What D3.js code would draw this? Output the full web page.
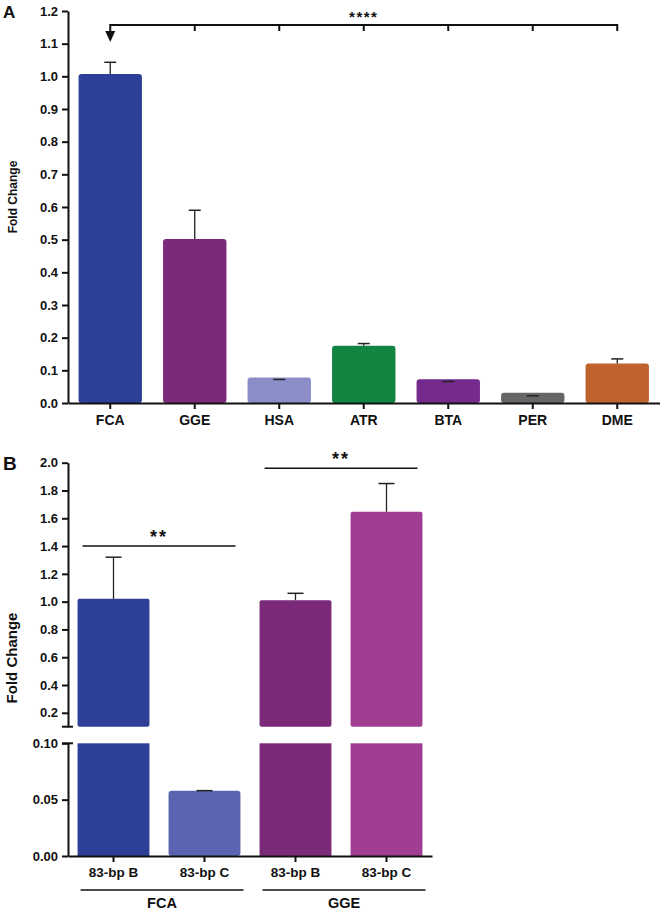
<!DOCTYPE html>
<html><head><meta charset="utf-8">
<script src="https://cdn.jsdelivr.net/npm/d3@7"></script>
<style>
body{margin:0;background:#fff;}
text{font-family:"Liberation Sans",Arial,sans-serif;font-weight:bold;fill:#111;}
</style></head>
<body>
<svg id="c" width="665" height="913"></svg>
<script>
// Panel A data
const catsA = ["FCA","GGE","HSA","ATR","BTA","PER","DME"];
const valsA = [1.007, 0.502, 0.078, 0.175, 0.073, 0.031, 0.121];
const errA  = [1.043, 0.590, 0.072, 0.182, 0.066, 0.022, 0.135];
const colA  = ["#2E3F97","#7B2A7A","#8A8DC8","#138543","#752A8E","#666666","#C0622B"];
const ticksA = [0.0,0.1,0.2,0.3,0.4,0.5,0.6,0.7,0.8,0.9,1.0,1.1,1.2];

// Panel B data
const catsB = ["83-bp B","83-bp C","83-bp B ","83-bp C "];
const groupsB = ["FCA","GGE"];
const valsB = [1.02, 0.058, 1.01, 1.647];
const errB  = [1.32, 0.058, 1.06, 1.85];
const colB  = ["#2E3F97","#5B64B0","#7B2A7A","#A13E94"];
const ticksBUpper = [0.2,0.4,0.6,0.8,1.0,1.2,1.4,1.6,1.8,2.0];
const ticksBLower = [0.00,0.05,0.10];

const svg = d3.select("#c");

// ---------- Panel A ----------
const xA = d3.scaleBand().domain(catsA).range([68, 659.5]).paddingInner(0.25).paddingOuter(0.125);
const yA = d3.scaleLinear().domain([0,1.2]).range([403, 11]);
const gA = svg.append("g");

gA.selectAll("rect.bar").data(catsA).join("rect")
  .attr("x", d => xA(d)).attr("width", xA.bandwidth())
  .attr("y", (d,i) => yA(valsA[i])).attr("height", (d,i) => yA(0) - yA(valsA[i]))
  .attr("rx", 3).attr("fill", (d,i) => colA[i]);
// error bars
gA.selectAll("g.err").data(catsA).join("g").each(function(d,i){
  const cx = xA(d) + xA.bandwidth()/2;
  const g = d3.select(this);
  if (errA[i] > valsA[i]) {
    g.append("line").attr("x1",cx).attr("x2",cx).attr("y1",yA(valsA[i])).attr("y2",yA(errA[i]))
      .attr("stroke","#222").attr("stroke-width",1.3);
  }
  g.append("line").attr("x1",cx-6).attr("x2",cx+6).attr("y1",yA(errA[i])).attr("y2",yA(errA[i]))
    .attr("stroke","#222").attr("stroke-width",1.5);
});

const axYA = gA.append("g").attr("transform","translate(68,0)")
  .call(d3.axisLeft(yA).tickValues(ticksA).tickFormat(d3.format(".1f")).tickSize(6).tickSizeOuter(0));
axYA.select(".domain").attr("stroke","#111").attr("stroke-width",2);
axYA.selectAll(".tick line").attr("stroke","#111").attr("stroke-width",2);
axYA.selectAll(".tick text").attr("font-size",13).attr("x",-10);

const axXA = gA.append("g").attr("transform","translate(0,403)")
  .call(d3.axisBottom(xA).tickSize(6).tickSizeOuter(0));
axXA.select(".domain").attr("stroke","#111").attr("stroke-width",2);
axXA.selectAll(".tick line").attr("stroke","#111").attr("stroke-width",2);
axXA.selectAll(".tick text").attr("font-size",14).attr("dy","0.95em");

// significance bracket
const bY = 25;
const cxA = d => xA(d) + xA.bandwidth()/2;
gA.append("line").attr("x1",cxA("FCA")).attr("x2",cxA("DME")).attr("y1",bY).attr("y2",bY)
  .attr("stroke","#111").attr("stroke-width",2);
catsA.slice(1).forEach(c => {
  gA.append("line").attr("x1",cxA(c)).attr("x2",cxA(c)).attr("y1",bY-1).attr("y2",bY+6)
    .attr("stroke","#111").attr("stroke-width",2);
});
gA.append("line").attr("x1",cxA("FCA")).attr("x2",cxA("FCA")).attr("y1",bY-1).attr("y2",bY+10)
  .attr("stroke","#111").attr("stroke-width",2);
gA.append("path").attr("d",`M${cxA("FCA")-5},${bY+6} L${cxA("FCA")+5},${bY+6} L${cxA("FCA")},${bY+17} Z`).attr("fill","#111");
gA.append("text").attr("x",cxA("ATR")).attr("y",bY-3).attr("text-anchor","middle")
  .attr("font-size",15).attr("letter-spacing",1.5).text("****");

gA.append("text").attr("transform",`translate(17,197) rotate(-90)`)
  .attr("text-anchor","middle").attr("font-size",12).text("Fold Change");
gA.append("text").attr("x",3).attr("y",18).attr("font-size",17).text("A");

// ---------- Panel B ----------
const xB = d3.scaleBand().domain(catsB).range([68, 432]).paddingInner(0.21).paddingOuter(0.105);
const yBU = d3.scaleLinear().domain([0.1, 2.0]).range([726.7, 462.7]);
const yBL = d3.scaleLinear().domain([0, 0.1]).range([856, 743.3]);
const gB = svg.append("g");

// bars: lower segment
gB.selectAll("rect.lower").data(catsB).join("rect")
  .attr("x", d => xB(d)).attr("width", xB.bandwidth())
  .attr("y", (d,i) => yBL(Math.min(valsB[i],0.1)))
  .attr("height", (d,i) => yBL(0) - yBL(Math.min(valsB[i],0.1)))
  .attr("rx", (d,i) => valsB[i] < 0.1 ? 3 : 0)
  .attr("fill", (d,i) => colB[i]);
// bars: upper segment
gB.selectAll("rect.upper").data(catsB.filter((d,i)=>valsB[i]>0.1)).join("rect")
  .attr("x", d => xB(d)).attr("width", xB.bandwidth())
  .attr("y", d => yBU(valsB[catsB.indexOf(d)]))
  .attr("height", d => yBU(0.1) - yBU(valsB[catsB.indexOf(d)]))
  .attr("rx", 2)
  .attr("fill", d => colB[catsB.indexOf(d)]);
// error bars
catsB.forEach((d,i) => {
  const cx = xB(d) + xB.bandwidth()/2;
  const sc = valsB[i] > 0.1 ? yBU : yBL;
  if (errB[i] > valsB[i]) {
    gB.append("line").attr("x1",cx).attr("x2",cx).attr("y1",sc(valsB[i])).attr("y2",sc(errB[i]))
      .attr("stroke","#222").attr("stroke-width",1.3);
  }
  gB.append("line").attr("x1",cx-8).attr("x2",cx+8).attr("y1",sc(errB[i])).attr("y2",sc(errB[i]))
    .attr("stroke","#222").attr("stroke-width",1.5);
});

const axU = gB.append("g").attr("transform","translate(68,0)")
  .call(d3.axisLeft(yBU).tickValues(ticksBUpper).tickFormat(d3.format(".1f")).tickSize(6).tickSizeOuter(0));
axU.select(".domain").attr("stroke","#111").attr("stroke-width",2);
axU.selectAll(".tick line").attr("stroke","#111").attr("stroke-width",2);
axU.selectAll(".tick text").attr("font-size",13).attr("x",-10);
// break caps
gB.append("line").attr("x1",62).attr("x2",73).attr("y1",yBU(0.1)).attr("y2",yBU(0.1)).attr("stroke","#111").attr("stroke-width",2);

const axL = gB.append("g").attr("transform","translate(68,0)")
  .call(d3.axisLeft(yBL).tickValues(ticksBLower).tickFormat(d3.format(".2f")).tickSize(6).tickSizeOuter(0));
axL.select(".domain").attr("stroke","#111").attr("stroke-width",2);
axL.selectAll(".tick line").attr("stroke","#111").attr("stroke-width",2);
axL.selectAll(".tick text").attr("font-size",13).attr("x",-10);
gB.append("line").attr("x1",62).attr("x2",73).attr("y1",yBL(0.1)).attr("y2",yBL(0.1)).attr("stroke","#111").attr("stroke-width",2);

const axXB = gB.append("g").attr("transform","translate(0,856)")
  .call(d3.axisBottom(xB).tickSize(6).tickSizeOuter(0));
axXB.select(".domain").attr("stroke","#111").attr("stroke-width",2);
axXB.selectAll(".tick line").attr("stroke","#111").attr("stroke-width",2);
axXB.selectAll(".tick text").attr("font-size",13.5).attr("dy","0.91em").text(d => d.trim());

// group labels
[[0,1],[2,3]].forEach((pair,gi) => {
  const x1 = xB(catsB[pair[0]]) + 3, x2 = xB(catsB[pair[1]]) + xB.bandwidth() + 3;
  gB.append("line").attr("x1",x1).attr("x2",x2).attr("y1",890).attr("y2",890).attr("stroke","#111").attr("stroke-width",1.5);
  gB.append("text").attr("x",(x1+x2)/2).attr("y",908).attr("text-anchor","middle").attr("font-size",14.5).text(groupsB[gi]);
});

// significance lines
[[0,1,1.40],[2,3,1.96]].forEach(s => {
  const x1 = xB(catsB[s[0]]) + 5, x2 = xB(catsB[s[1]]) + xB.bandwidth() - 5;
  const yy = yBU(s[2]);
  gB.append("line").attr("x1",x1).attr("x2",x2).attr("y1",yy).attr("y2",yy).attr("stroke","#111").attr("stroke-width",1.5);
  gB.append("text").attr("x",(x1+x2)/2).attr("y",yy-3).attr("text-anchor","middle")
    .attr("font-size",18).attr("letter-spacing",2).text("**");
});

gB.append("text").attr("transform",`translate(17,658) rotate(-90)`)
  .attr("text-anchor","middle").attr("font-size",15).text("Fold Change");
gB.append("text").attr("x",3).attr("y",470).attr("font-size",19).text("B");
</script>
</body></html>
